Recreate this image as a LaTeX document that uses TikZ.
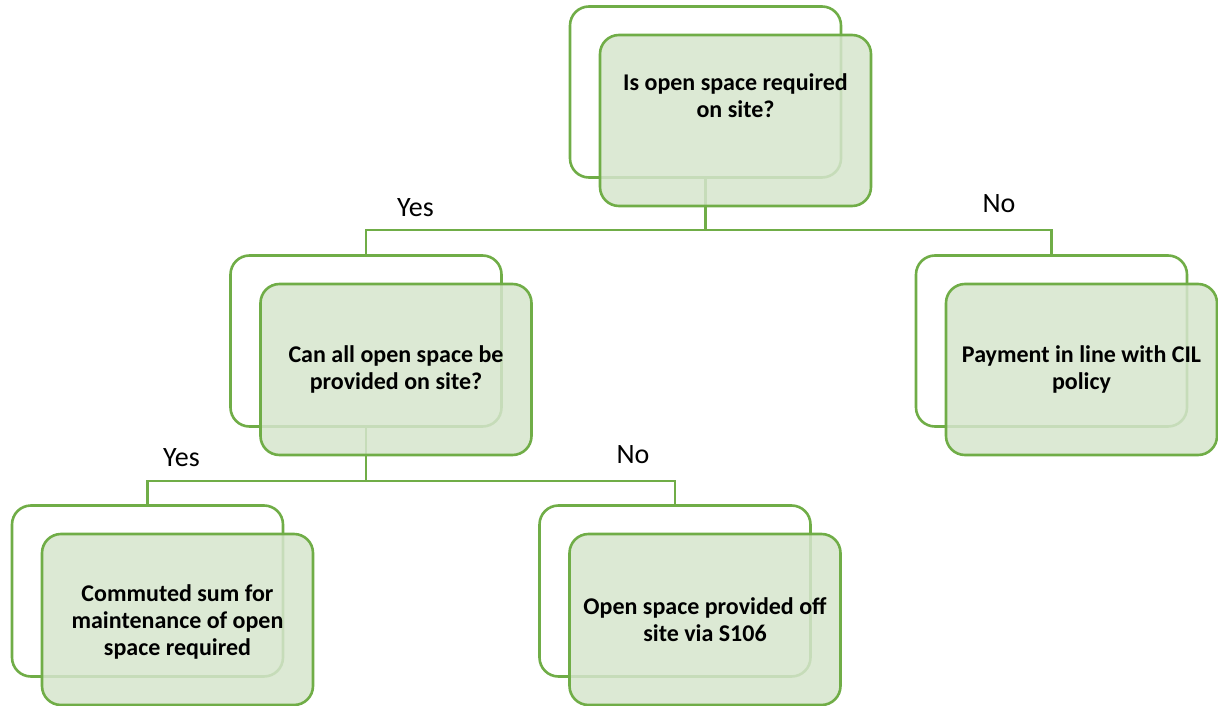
\documentclass[tikz,border=0pt]{standalone}
\usepackage{fontspec}
\setmainfont{Carlito}
\usetikzlibrary{calc}
\definecolor{boxgreen}{RGB}{112,173,71}
\definecolor{boxfill}{RGB}{214,229,205}
\tikzset{
  backbox/.style={draw=boxgreen,line width=2.6pt,rounded corners=19pt,
    minimum width=271pt,minimum height=171pt,inner sep=0pt},
  frontbox/.style={backbox,fill=boxfill,fill opacity=0.85},
  boxtext/.style={font=\bfseries\fontsize{24}{27}\selectfont,align=center},
  link/.style={draw=boxgreen,line width=2.6pt},
  answer/.style={font=\fontsize{28}{30}\selectfont,anchor=base,inner sep=0pt}
}
\begin{document}
\begin{tikzpicture}[x=1pt,y=-1pt]
  \useasboundingbox (0,0) rectangle (1218,706);
  % back outlines
  \foreach \n/\x/\y in {top/705.5/92, can/366/341, cil/1051.5/341, sum/147.5/591, off/675/591}{
    \node[backbox] (\n B) at (\x,\y) {};
  }
  % connectors
  \coordinate (j1) at ($(topB.south)+(0,51)$);
  \coordinate (j2) at ($(canB.south)+(0,53)$);
  \draw[link] (topB.south) -- (j1) -| (canB.north) (j1) -| (cilB.north);
  \draw[link] (canB.south) -- (j2) -| (sumB.north) (j2) -| (offB.north);
  % front boxes
  \foreach \n in {top,can,cil,sum,off}{
    \node[frontbox] (\n) at ($(\n B.center)+(30,28.5)$) {};
  }
  \node[boxtext] (topT) at ($(top.center)+(0,-25)$) {Is open space required\\on site?};
  \node[boxtext] (canT) at (can.center) {Can all open space be\\provided on site?};
  \node[boxtext] (cilT) at (cil.center) {Payment in line with CIL\\policy};
  \node[boxtext] (sumT) at ($(sum.center)+(0,2)$) {Commuted sum for\\maintenance of open\\space required};
  \node[boxtext] (offT) at (off.center) {Open space provided off\\site via S106};
  % answers
  \node[answer] (yes1) at (415.5,216) {Yes};
  \node[answer] (no1) at (999,212) {No};
  \node[answer] (yes2) at (181.5,466.5) {Yes};
  \node[answer] (no2) at (633,463) {No};
\end{tikzpicture}
\end{document}
